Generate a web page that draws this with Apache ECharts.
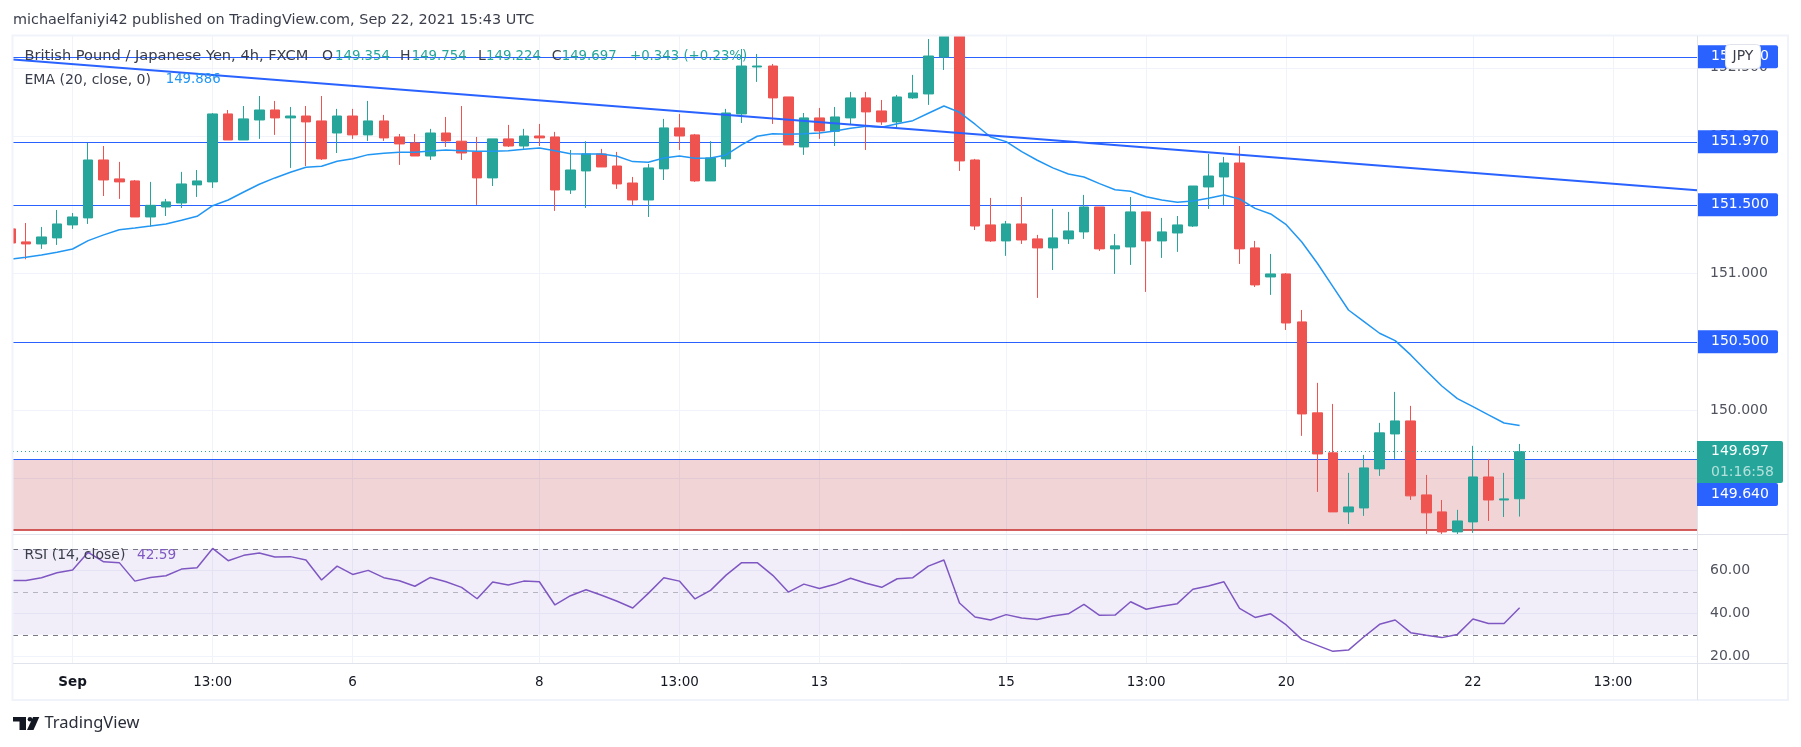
<!DOCTYPE html>
<html>
<head>
<meta charset="utf-8">
<script src="https://cdn.jsdelivr.net/npm/echarts@6/dist/echarts.min.js"></script>
<style>
  html, body { margin: 0; padding: 0; background: #fff; }
  #chart { width: 1801px; height: 747px; }
</style>
</head>
<body>
<div id="chart"></div>
<script>
// GBP/JPY 4h candles, one entry per bar
const opens = [151.324,151.229,151.214,151.258,151.353,151.404,151.827,151.689,151.674,151.411,151.484,151.513,151.645,151.667,152.163,151.973,152.119,152.192,152.134,152.148,152.112,152.024,152.148,152.010,152.112,151.995,151.951,151.856,152.024,151.964,151.886,151.696,151.981,151.929,152.002,151.995,151.608,151.747,151.871,151.783,151.659,151.535,151.762,152.061,152.010,151.674,151.835,152.163,152.506,152.513,152.287,151.922,152.134,152.036,152.134,152.280,152.185,152.105,152.280,152.309,152.579,152.73,151.827,151.353,151.236,151.360,151.251,151.185,151.251,151.302,151.484,151.178,151.192,151.448,151.236,151.294,151.345,151.630,151.703,151.805,151.185,150.973,150.995,150.645,149.981,149.689,149.258,149.287,149.572,149.827,149.922,149.382,149.258,149.112,149.185,149.513,149.345,149.354];
const closes = [151.221,151.214,151.265,151.360,151.411,151.827,151.681,151.667,151.411,151.496,151.521,151.652,151.674,152.163,151.973,152.127,152.192,152.134,152.148,152.105,151.835,152.148,152.010,152.112,151.988,151.944,151.856,152.024,151.966,151.878,151.696,151.981,151.929,152.002,151.988,151.608,151.754,151.871,151.776,151.652,151.535,151.769,152.061,152.002,151.674,151.842,152.170,152.513,152.513,152.280,151.937,152.134,152.039,152.141,152.280,152.178,152.105,152.287,152.316,152.586,152.73,151.820,151.345,151.236,151.360,151.243,151.185,151.258,151.309,151.484,151.178,151.200,151.448,151.236,151.302,151.353,151.637,151.710,151.805,151.178,150.915,150.995,150.637,149.973,149.681,149.258,149.294,149.579,149.835,149.922,149.375,149.251,149.112,149.192,149.513,149.345,149.353,149.697];
const lows = [151.182,151.102,151.178,151.207,151.324,151.360,151.564,151.543,151.411,151.341,151.418,151.477,151.557,151.623,151.973,151.973,151.981,152.010,151.769,151.783,151.827,151.878,151.981,151.966,151.966,151.791,151.856,151.827,151.922,151.827,151.499,151.637,151.922,151.908,151.929,151.455,151.579,151.477,151.776,151.616,151.499,151.411,151.681,151.900,151.667,151.674,151.776,152.097,152.397,152.090,151.937,151.864,151.981,151.929,152.083,151.900,152.083,152.061,152.273,152.229,152.484,151.747,151.316,151.229,151.127,151.214,150.820,151.024,151.214,151.251,151.163,150.995,151.061,150.864,151.112,151.156,151.338,151.470,151.499,151.068,150.900,150.842,150.586,149.813,149.404,149.258,149.170,149.229,149.521,149.645,149.345,149.097,149.097,149.097,149.105,149.192,149.221,149.224];
const highs = [151.365,151.367,151.338,151.462,151.440,151.951,151.929,151.813,151.681,151.667,151.543,151.740,151.754,152.170,152.192,152.221,152.294,152.258,152.214,152.221,152.294,152.200,152.200,152.258,152.156,152.017,152.017,152.054,152.141,152.221,151.995,151.981,152.083,152.054,152.090,152.032,151.900,151.964,151.908,151.886,151.703,151.798,152.127,152.163,152.017,151.964,152.200,152.637,152.601,152.528,152.287,152.170,152.207,152.214,152.324,152.324,152.265,152.302,152.448,152.710,152.73,152.73,151.835,151.550,151.382,151.557,151.280,151.470,151.448,151.572,151.484,151.287,151.557,151.448,151.404,151.418,151.637,151.871,151.849,151.929,151.236,151.141,151.002,150.732,150.200,150.046,149.543,149.674,149.908,150.134,150.032,149.528,149.345,149.273,149.740,149.645,149.543,149.754];
const ema = [151.102,151.117,151.134,151.153,151.177,151.238,151.280,151.318,151.331,151.345,151.360,151.387,151.416,151.493,151.535,151.593,151.650,151.696,151.737,151.774,151.781,151.818,151.836,151.866,151.876,151.883,151.883,151.893,151.900,151.895,151.890,151.890,151.895,151.905,151.915,151.895,151.873,151.871,151.871,151.854,151.815,151.810,151.842,151.856,151.839,151.842,151.864,151.937,152.000,152.019,152.015,152.019,152.024,152.039,152.058,152.073,152.066,152.092,152.114,152.168,152.221,152.175,152.088,151.995,151.961,151.888,151.825,151.769,151.725,151.703,151.654,151.610,151.599,151.559,151.535,151.518,151.528,151.547,151.572,151.542,151.474,151.433,151.355,151.228,151.073,150.902,150.732,150.647,150.562,150.508,150.404,150.289,150.177,150.085,150.026,149.966,149.907,149.888];
const rsi = [55.3,55.3,56.6,58.9,60.2,68.4,64.0,63.6,55.0,56.7,57.5,60.6,61.2,70.2,64.5,67.0,68.1,66.2,66.4,64.8,55.5,62.0,58.1,60.0,56.6,55.2,52.6,56.7,54.7,52.1,46.8,54.6,53.2,55.0,54.7,43.9,48.2,51.0,48.4,45.6,42.5,49.3,56.6,55.0,46.7,50.7,57.8,63.6,63.6,57.7,49.9,53.6,51.6,53.5,56.3,54.0,52.1,56.1,56.6,62.0,64.8,44.8,38.3,36.9,39.4,37.8,37.1,38.8,39.8,44.2,39.1,39.2,45.4,41.9,43.3,44.5,51.2,52.7,54.7,42.3,38.1,39.8,34.6,27.9,25.1,22.3,22.9,29.1,34.9,36.9,31.0,29.8,28.7,30.2,37.4,35.3,35.3,42.6];

const timeTicks = [4, 13, 22, 34, 43, 52, 64, 73, 82, 94, 103];
const timeLabels = ['Sep', '13:00', '6', '8', '13:00', '13', '15', '13:00', '20', '22', '13:00'];
const priceTicks = [149.5, 150, 150.5, 151, 151.5, 152, 152.5];
const rsiTicks = [20, 40, 60];

// drawn levels and their tags
const levels = [152.577, 151.96, 151.5, 150.5];
const levelTags = ['152.580', '151.970', '151.500', '150.500'];
const supportTop = 149.64;
const supportBottom = 149.128;
const lastPrice = 149.697;
const trendX = [0.17, 108.4];
const trendY = [152.561, 151.606];

const UP = '#26a69a', DOWN = '#ef5350', BLUE = '#2962ff', GRID = '#f0f3fa', AXIS = '#e0e3eb';
const FONT = '"DejaVu Sans", sans-serif';
const TEXT = '#131722', SCALE = '#50535e', LEGEND = '#3a3e4a';

const xMin = 0.17, xMax = 108.4;
const candles = opens.map((o, i) => [i, o, closes[i], lows[i], highs[i]]);

function timeAxis(gridIndex, showLabels) {
    return {
        type: 'value', gridIndex, min: xMin, max: xMax,
        axisLine: { show: false },
        axisTick: { show: false, customValues: timeTicks },
        splitLine: { show: true, lineStyle: { color: GRID, width: 1 } },
        axisLabel: {
            show: showLabels, customValues: timeTicks, margin: 12, fontFamily: FONT, fontSize: 13.5, color: TEXT,
            formatter: v => {
                const t = timeLabels[timeTicks.indexOf(v)];
                return t === 'Sep' ? '{b|Sep}' : t;
            },
            rich: { b: { fontFamily: FONT, fontSize: 13.5, fontWeight: 'bold', color: TEXT } }
        }
    };
}

function priceAxis(gridIndex, min, max, ticks, digits) {
    return {
        type: 'value', gridIndex, position: 'right', min, max, scale: true,
        axisLine: { show: false },
        axisTick: { show: false, customValues: ticks },
        splitLine: { show: true, lineStyle: { color: GRID, width: 1 } },
        axisLabel: {
            customValues: ticks, margin: 13, fontFamily: FONT, fontSize: 14, color: SCALE,
            formatter: v => v.toFixed(digits)
        }
    };
}

function levelLine(value, tag) {
    return {
        yAxis: value,
        lineStyle: { color: BLUE, width: 1, type: 'solid' },
        label: {
            show: true, position: 'end', distance: 0, formatter: tag,
            backgroundColor: BLUE, color: '#fff', fontFamily: FONT, fontSize: 14,
            padding: [5, 8, 4, 14], width: 59, borderRadius: [0, 2, 2, 0]
        }
    };
}

// small tag fixed beside the scale, these two got pushed off their lines by the chart
function scaleTag(y, h, w, color, lines) {
    const items = [{ type: 'rect', shape: { x: 1697, y, width: w, height: h, r: [0, 2, 2, 0] }, style: { fill: color }, z: 40 }];
    lines.forEach((l, i) => items.push({
        type: 'text', x: 1711, y: y + h * (i + 0.5) / lines.length, z: 41,
        style: { text: l.text, fill: l.color, font: '14px ' + FONT, textVerticalAlign: 'middle' }
    }));
    return items;
}

// legend text sits on the chart, values are set a little tighter than the names
function legendText(x, y, text, color, size) {
    return {
        type: 'text', x, y, z: 50, silent: true,
        style: { text, fill: color, font: size + 'px ' + FONT, textVerticalAlign: 'middle' }
    };
}

const frame = [
    // first candle runs past the pane edge
    { type: 'rect', shape: { x: 0, y: 36, width: 12, height: 500 }, style: { fill: '#fff' }, z: 20 },
    { type: 'rect', shape: { x: 12.5, y: 35.5, width: 1775.5, height: 664.5 }, style: { fill: 'none', stroke: GRID, lineWidth: 2 }, z: 30 },
    { type: 'line', shape: { x1: 13, y1: 534.5, x2: 1788, y2: 534.5 }, style: { stroke: AXIS, lineWidth: 1 }, z: 30 },
    { type: 'line', shape: { x1: 13, y1: 663.5, x2: 1788, y2: 663.5 }, style: { stroke: AXIS, lineWidth: 1 }, z: 30 },
    { type: 'line', shape: { x1: 1697.5, y1: 36, x2: 1697.5, y2: 700 }, style: { stroke: AXIS, lineWidth: 1 }, z: 30 }
];

const legend = [
    legendText(13, 20.5, 'michaelfaniyi42 published on TradingView.com, Sep 22, 2021 15:43 UTC', LEGEND, 14.4),
    legendText(24.5, 56.5, 'British Pound / Japanese Yen, 4h, FXCM', LEGEND, 14.6),
    legendText(322, 56.5, 'O', LEGEND, 14),
    legendText(335, 56.5, '149.354', UP, 13.3),
    legendText(400, 56.5, 'H', LEGEND, 14),
    legendText(411.7, 56.5, '149.754', UP, 13.3),
    legendText(478, 56.5, 'L', LEGEND, 14),
    legendText(486, 56.5, '149.224', UP, 13.3),
    legendText(551.7, 56.5, 'C', LEGEND, 14),
    legendText(561.7, 56.5, '149.697', UP, 13.3),
    legendText(630, 56.5, '+0.343 (+0.23%)', UP, 13.3),
    legendText(24.5, 80, 'EMA (20, close, 0)', LEGEND, 14),
    legendText(165.7, 80, '149.886', '#2196f3', 13.3),
    legendText(24.5, 555.5, 'RSI (14, close)', LEGEND, 14),
    legendText(137, 555.5, '42.59', '#7e57c2', 13.7)
];

const badge = [
    { type: 'rect', shape: { x: 1725.5, y: 44.5, width: 35, height: 24, r: 4 }, style: { fill: '#fff', stroke: AXIS, lineWidth: 1 }, z: 45 },
    { type: 'text', x: 1743, y: 56.5, z: 46, style: { text: 'JPY', fill: LEGEND, font: '14px ' + FONT, textAlign: 'center', textVerticalAlign: 'middle' } }
];

const logo = [
    { type: 'rect', shape: { x: 13, y: 717, width: 13, height: 4.5 }, style: { fill: TEXT } },
    { type: 'rect', shape: { x: 19.5, y: 717, width: 6.5, height: 13 }, style: { fill: TEXT } },
    { type: 'circle', shape: { cx: 30, cy: 719.3, r: 2.3 }, style: { fill: TEXT } },
    { type: 'polygon', shape: { points: [[33, 717], [39.3, 717], [33.5, 730], [27, 730]] }, style: { fill: TEXT } },
    { type: 'text', x: 44.5, y: 723.5, style: { text: 'TradingView', fill: '#2a2e39', font: '16.5px "Noto Sans", sans-serif', textVerticalAlign: 'middle' } }
];

const tags = [
    ...scaleTag(483, 23, 81, BLUE, [{ text: '149.640', color: '#fff' }]),
    ...scaleTag(441, 42, 86, UP, [{ text: lastPrice.toFixed(3), color: '#fff' }, { text: '01:16:58', color: 'rgba(255,255,255,0.65)' }])
];

const option = {
    animation: false,
    backgroundColor: '#fff',
    textStyle: { fontFamily: FONT },
    grid: [
        { left: 13, top: 36, width: 1684, height: 498.5 },
        { left: 13, top: 534.5, width: 1684, height: 129 }
    ],
    xAxis: [timeAxis(0, false), timeAxis(1, true)],
    yAxis: [
        priceAxis(0, 149.093, 152.732, priceTicks, 3),
        priceAxis(1, 16.65, 76.7, rsiTicks, 2)
    ],
    graphic: { elements: [...frame, ...legend, ...tags, ...badge, ...logo] },
    series: [
        {
            // levels and the shaded support zone, kept under the candles
            name: 'levels', type: 'line', xAxisIndex: 0, yAxisIndex: 0, z: 1, data: [], silent: true,
            markArea: {
                z: 1, silent: true,
                itemStyle: { color: 'rgba(178,40,51,0.2)' },
                data: [[{ yAxis: supportTop }, { yAxis: supportBottom }]]
            },
            markLine: {
                z: 1, silent: true, symbol: 'none', animation: false,
                data: [
                    ...levels.map((v, i) => levelLine(v, levelTags[i])),
                    { yAxis: supportTop, lineStyle: { color: BLUE, width: 1, type: 'solid' }, label: { show: false } },
                    { yAxis: supportBottom, lineStyle: { color: '#c62828', width: 1.5, type: 'solid' }, label: { show: false } }
                ]
            }
        },
        {
            name: 'GBPJPY', type: 'candlestick', xAxisIndex: 0, yAxisIndex: 0, z: 2,
            barWidth: 10, encode: { x: 0, y: [1, 2, 3, 4] }, data: candles, silent: true,
            itemStyle: { color: UP, color0: DOWN, borderColor: UP, borderColor0: DOWN, borderWidth: 1 }
        },
        {
            name: 'last', type: 'line', xAxisIndex: 0, yAxisIndex: 0, z: 3, data: [], silent: true,
            markLine: {
                z: 3, silent: true, symbol: 'none', label: { show: false },
                data: [{ yAxis: lastPrice, lineStyle: { color: UP, width: 1, type: [1, 3] } }]
            }
        },
        {
            name: 'EMA', type: 'line', xAxisIndex: 0, yAxisIndex: 0, z: 4, showSymbol: false, silent: true,
            data: ema.map((v, i) => [i, v]), lineStyle: { color: '#2196f3', width: 1.5 }, itemStyle: { color: '#2196f3' }
        },
        {
            name: 'trend', type: 'line', xAxisIndex: 0, yAxisIndex: 0, z: 5, showSymbol: false, silent: true,
            data: trendX.map((x, i) => [x, trendY[i]]), lineStyle: { color: BLUE, width: 2 }, itemStyle: { color: BLUE }
        },
        {
            name: 'RSI', type: 'line', xAxisIndex: 1, yAxisIndex: 1, z: 4, showSymbol: false, silent: true,
            data: rsi.map((v, i) => [i, v]), lineStyle: { color: '#7e57c2', width: 1.5 }, itemStyle: { color: '#7e57c2' },
            markArea: {
                z: 1, silent: true,
                itemStyle: { color: 'rgba(126,87,194,0.1)' },
                data: [[{ yAxis: 70 }, { yAxis: 30 }]]
            },
            markLine: {
                z: 2, silent: true, symbol: 'none', label: { show: false },
                data: [
                    { yAxis: 70, lineStyle: { color: '#787b86', width: 1, type: [5, 5] } },
                    { yAxis: 50, lineStyle: { color: 'rgba(120,123,134,0.5)', width: 1, type: [5, 5] } },
                    { yAxis: 30, lineStyle: { color: '#787b86', width: 1, type: [5, 5] } }
                ]
            }
        }
    ]
};

const chart = echarts.init(document.getElementById('chart'));
chart.setOption(option);
</script>
</body>
</html>
